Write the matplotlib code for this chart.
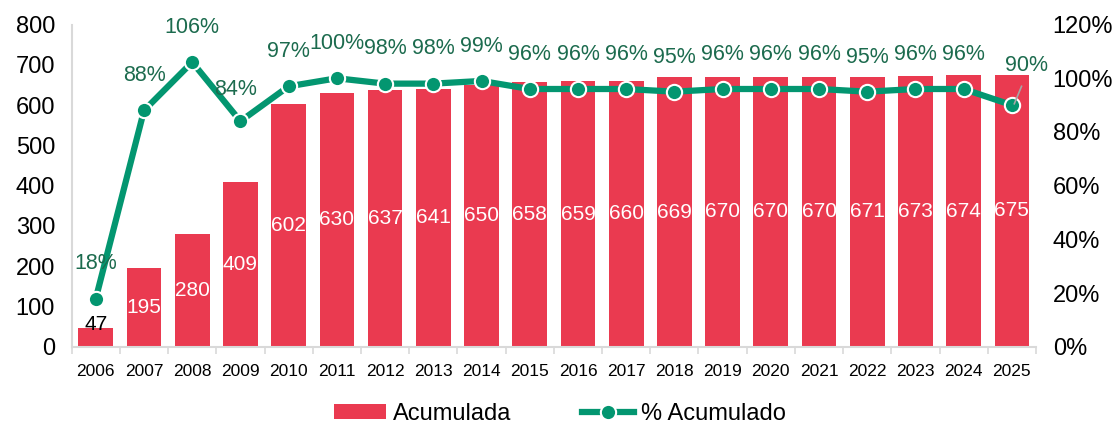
import numpy as np
import matplotlib.pyplot as plt

plt.rcParams['font.family'] = ['Liberation Sans', 'DejaVu Sans']

years = [str(y) for y in range(2006, 2026)]
acumulada = [47, 195, 280, 409, 602, 630, 637, 641, 650, 658, 659, 660, 669, 670, 670, 670, 671, 673, 674, 675]
pct = [18, 88, 106, 84, 97, 100, 98, 98, 99, 96, 96, 96, 95, 96, 96, 96, 95, 96, 96, 90]

bar_color = '#EA3A50'
line_color = '#039670'
label_green = '#1C6B4E'
axis_grey = '#D9D9D9'

fig = plt.figure(figsize=(11.2, 4.23), dpi=100)
ax = fig.add_axes([0.064, 0.18, 0.861, 0.762])
ax2 = ax.twinx()

x = np.arange(len(years))
bars = ax.bar(x, acumulada, width=0.72, color=bar_color, label='Acumulada', zorder=2)
ax.set_xlim(-0.5, len(years) - 0.5)
ax.set_ylim(0, 800)
ax.set_yticks(range(0, 801, 100))
ax.set_xticks(x)
ax.set_xticklabels(years, fontsize=12.5)
ax.set_xticks(np.arange(-0.5, len(years)), minor=True)
ax.tick_params(axis='x', which='major', length=0, pad=12)
ax.tick_params(axis='x', which='minor', length=5, color=axis_grey, width=1.2)
ax.tick_params(axis='y', length=0, labelsize=17, pad=12)

for s in ['top', 'right']:
    ax.spines[s].set_visible(False)
for s in ['left', 'bottom']:
    ax.spines[s].set_color(axis_grey)
    ax.spines[s].set_linewidth(1.5)

for i, v in enumerate(acumulada):
    if i == 0:
        ax.text(i, 55, str(v), ha='center', va='center', fontsize=15, color='black', zorder=5)
    else:
        ax.text(i, v / 2, str(v), ha='center', va='center', fontsize=15, color='white', zorder=5)

ax2.plot(x, pct, color=line_color, lw=4.5, marker='o', ms=11, mfc=line_color,
         mec='white', mew=1.5, label='% Acumulado', zorder=3)
ax2.set_ylim(0, 120)
ax2.set_yticks(range(0, 121, 20))
ax2.set_yticklabels([f'{t}%' for t in range(0, 121, 20)])
ax2.tick_params(axis='y', length=0, labelsize=17, pad=12)
for s in ax2.spines.values():
    s.set_visible(False)

for i, v in enumerate(pct):
    dx, dy = 0, 9
    if i == 3:
        dx = -0.1
        dy = 8
    if i == 19:
        dx = 0.3
        dy = 11
        ax2.plot([i + 0.05, i + 0.2], [v + 0.5, v + 7], color='#A6A6A6', lw=1.2, zorder=4)
    ax2.text(i + dx, v + dy, f'{v}%', ha='center', va='bottom', fontsize=15.5, color=label_green)

h1, l1 = ax.get_legend_handles_labels()
h2, l2 = ax2.get_legend_handles_labels()
fig.legend(h1 + h2, l1 + l2, loc='lower center', bbox_to_anchor=(0.5, -0.055), ncol=2,
           frameon=False, fontsize=17, handlelength=2.2, handleheight=0.6,
           columnspacing=3.0, handletextpad=0.3)

fig.savefig('out.png', dpi=100)
